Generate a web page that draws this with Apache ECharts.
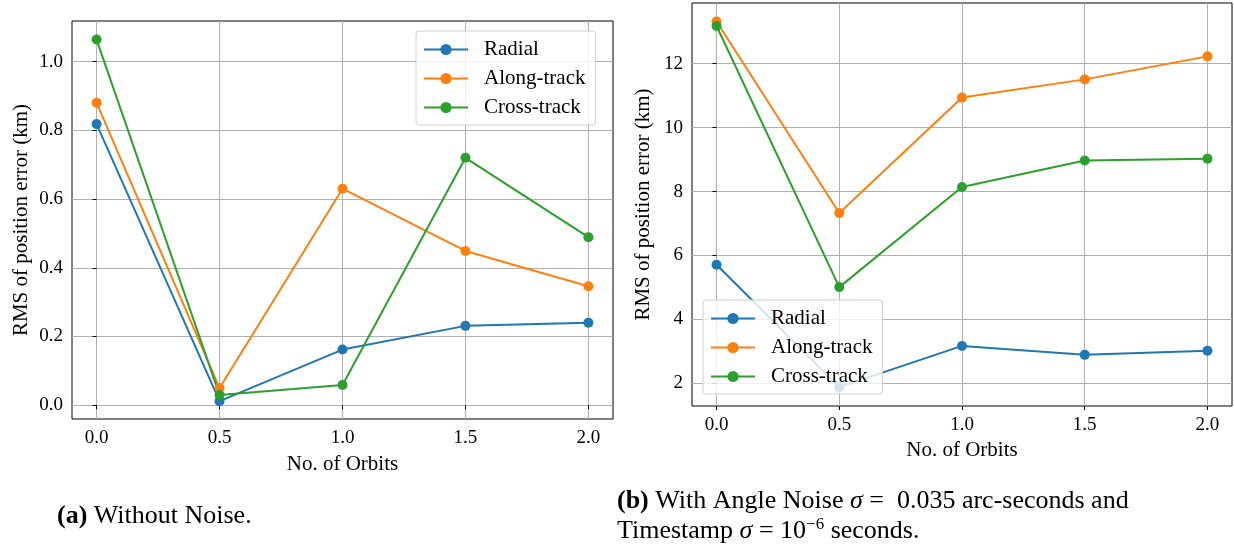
<!DOCTYPE html>
<html>
<head>
<meta charset="utf-8" />
<script src="https://cdn.jsdelivr.net/npm/echarts@6/dist/echarts.min.js"></script>
<style>
  html, body { margin: 0; padding: 0; background: #fff; }
  #chart { width: 1234px; height: 549px; }
</style>
</head>
<body>
<div id="chart"></div>
<script>
// 数据
const orbits = [0, 0.5, 1.0, 1.5, 2.0];
const radialA = [0.818, 0.012, 0.162, 0.231, 0.240];
const alongA = [0.880, 0.050, 0.630, 0.449, 0.346];
const crossA = [1.064, 0.030, 0.059, 0.720, 0.489];
const radialB = [5.71, 1.88, 3.17, 2.89, 3.02];
const alongB = [13.32, 7.33, 10.94, 11.51, 12.23];
const crossB = [13.18, 5.01, 8.14, 8.97, 9.03];
const xTicks = [0, 0.5, 1.0, 1.5, 2.0];
const yTicksA = [0, 0.2, 0.4, 0.6, 0.8, 1.0];
const yTicksB = [2, 4, 6, 8, 10, 12];
const names = ["Radial", "Along-track", "Cross-track"];
const colors = ["#1f77b4", "#ff7f0e", "#2ca02c"];

const FONT = "Liberation Serif";

function pairs(ys) {
  return orbits.map((x, i) => [x, ys[i]]);
}

function xAxisCfg(idx) {
  return {
    type: "value",
    gridIndex: idx,
    min: -0.1,
    max: 2.1,
    name: "No. of Orbits",
    nameLocation: "middle",
    nameGap: idx === 0 ? 35 : 33,
    nameTextStyle: { fontFamily: FONT, fontSize: 21, color: "#000" },
    axisLine: { show: false },
    axisTick: { show: true, length: 4, customValues: xTicks, lineStyle: { color: "#000" } },
    axisLabel: {
      customValues: xTicks,
      fontFamily: FONT,
      fontSize: 19,
      color: "#000",
      margin: 10,
      formatter: (v) => v.toFixed(1),
    },
    splitLine: { show: true, lineStyle: { color: "#b0b0b0", width: 1 } },
  };
}

function yAxisCfg(idx, min, max, ticks, fmt) {
  return {
    type: "value",
    gridIndex: idx,
    min: min,
    max: max,
    name: "RMS of position error (km)",
    nameLocation: "middle",
    nameGap: idx === 0 ? 40 : 38,
    nameTextStyle: { fontFamily: FONT, fontSize: 21, color: "#000" },
    axisLine: { show: false },
    axisTick: { show: true, length: 4, customValues: ticks, lineStyle: { color: "#000" } },
    axisLabel: {
      customValues: ticks,
      fontFamily: FONT,
      fontSize: 19,
      color: "#000",
      margin: 9,
      formatter: fmt,
    },
    splitLine: { show: true, lineStyle: { color: "#b0b0b0", width: 1 } },
  };
}

function lineSeries(name, data, color, idx) {
  return {
    name: name,
    type: "line",
    xAxisIndex: idx,
    yAxisIndex: idx,
    data: pairs(data),
    symbol: "circle",
    symbolSize: 10,
    color: color,
    lineStyle: { color: color, width: 2 },
    itemStyle: { color: color },
    animation: false,
  };
}

function legendCfg(left, top) {
  return {
    orient: "vertical",
    left: left,
    top: top,
    data: names,
    itemWidth: 44,
    itemHeight: 14,
    itemGap: 8,
    padding: [8, 10, 7, 7],
    backgroundColor: "rgba(255,255,255,0.8)",
    borderColor: "#d0d0d0",
    borderWidth: 1,
    borderRadius: 3,
    selectedMode: false,
    textStyle: { fontFamily: FONT, fontSize: 21, color: "#000", padding: [0, 0, 0, 11] },
  };
}

const chartDom = document.getElementById("chart");
const myChart = echarts.init(chartDom);

const option = {
  backgroundColor: "#fff",
  animation: false,
  grid: [
    { left: 72, top: 21, width: 541, height: 398, show: true, borderColor: "#000", borderWidth: 1, backgroundColor: "transparent" },
    { left: 692, top: 3, width: 540, height: 403, show: true, borderColor: "#000", borderWidth: 1, backgroundColor: "transparent" },
  ],
  xAxis: [xAxisCfg(0), xAxisCfg(1)],
  yAxis: [
    yAxisCfg(0, -0.04, 1.118, yTicksA, (v) => v.toFixed(1)),
    yAxisCfg(1, 1.29, 13.9, yTicksB, (v) => String(Math.round(v))),
  ],
  legend: [legendCfg(416, 31), legendCfg(703, 300)],
  series: [
    lineSeries(names[0], radialA, colors[0], 0),
    lineSeries(names[1], alongA, colors[1], 0),
    lineSeries(names[2], crossA, colors[2], 0),
    lineSeries(names[0], radialB, colors[0], 1),
    lineSeries(names[1], alongB, colors[1], 1),
    lineSeries(names[2], crossB, colors[2], 1),
  ],
  title: [
    {
      left: 57,
      top: 501,
      padding: 0,
      text: "{b|(a)} Without Noise.",
      textStyle: {
        fontFamily: FONT,
        fontSize: 26,
        fontWeight: "normal",
        color: "#000",
        lineHeight: 30,
        rich: { b: { fontFamily: FONT, fontSize: 26, fontWeight: "bold", color: "#000", lineHeight: 30 } },
      },
    },
    {
      left: 617,
      top: 486,
      padding: 0,
      text: "{b|(b)} With Angle Noise {i|σ} =  0.035 arc-seconds and\nTimestamp {i|σ} = 10{s|−6} seconds.",
      textStyle: {
        fontFamily: FONT,
        fontSize: 26,
        fontWeight: "normal",
        color: "#000",
        lineHeight: 30,
        rich: {
          b: { fontFamily: FONT, fontSize: 26, fontWeight: "bold", color: "#000", lineHeight: 30 },
          i: { fontFamily: FONT, fontSize: 26, fontStyle: "italic", color: "#000", lineHeight: 30 },
          s: { fontFamily: FONT, fontSize: 17, color: "#000", verticalAlign: "top", lineHeight: 24 },
        },
      },
    },
  ],
};

option && myChart.setOption(option, true);
</script>
</body>
</html>
